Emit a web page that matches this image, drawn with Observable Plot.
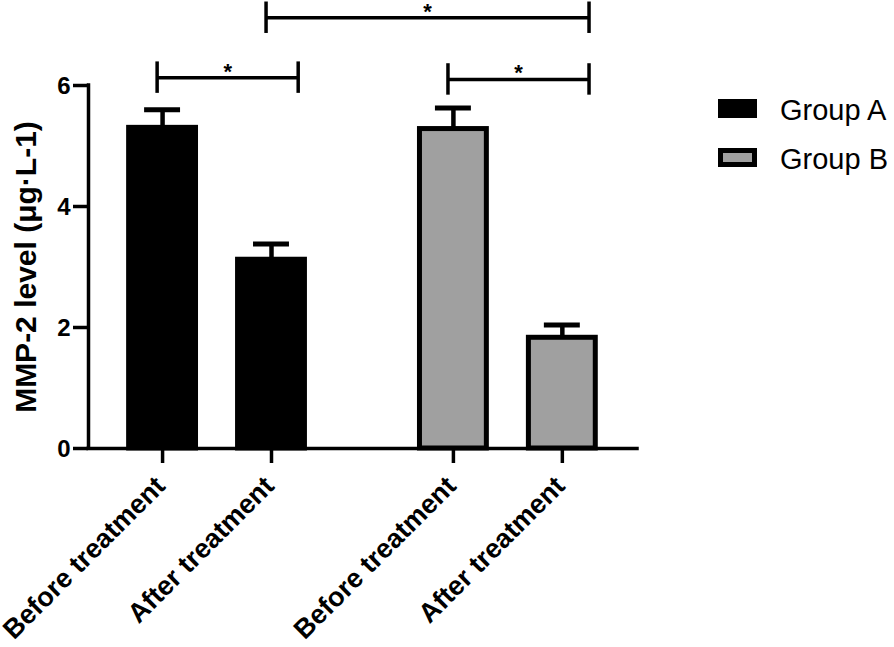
<!DOCTYPE html>
<html>
<head>
<meta charset="utf-8">
<script src="https://cdn.jsdelivr.net/npm/d3@7"></script>
<script src="https://cdn.jsdelivr.net/npm/@observablehq/plot@0.6"></script>
<style>
  body { margin: 0; background: #fff; font-family: "Liberation Sans", Arial, sans-serif; }
  #wrap { position: relative; width: 894px; height: 647px; overflow: hidden; }
  .sw { position: absolute; box-sizing: border-box; }
  .lt { position: absolute; font-size: 29px; line-height: 29px; color: #000; white-space: nowrap; }
</style>
</head>
<body>
<div id="wrap"><div id="chart"></div></div>
<script>
// ---- data ----
const groups = ["Group A", "Group B"];
const timepoints = ["Before treatment", "After treatment"];
const groupA_mean = [5.30, 3.12];
const groupA_sd = [0.30, 0.26];
const groupB_mean = [5.28, 1.83];
const groupB_sd = [0.35, 0.21];
const yTicks = [0, 2, 4, 6];
const yLabel = "MMP-2 level (μg·L-1)";
const bracketFrom = ["Group A|Before treatment", "Group B|Before treatment", "Group A|After treatment"];
const bracketTo = ["Group A|After treatment", "Group B|After treatment", "Group B|After treatment"];
const bracketLevel = [6.13, 6.10, 7.12];
const bracketMark = ["*", "*", "*"];
const groupColors = ["#000000", "#a0a0a0"];

// ---- layout constants ----
const GROUP_STEP = 2.67, BAR_HALF = 0.307, CAP_HALF = 0.165;
const X_MIN = -0.68, X_MAX = 4.36;
const BR_LEFT = -0.05, BR_RIGHT = 0.245, BR_TICK = 0.26;

const means = [groupA_mean, groupB_mean];
const sds = [groupA_sd, groupB_sd];
const rows = groups.flatMap((g, gi) => timepoints.map((t, ti) => ({
  group: g, time: t, key: g + "|" + t, pos: ti + gi * GROUP_STEP,
  mean: means[gi][ti], sd: sds[gi][ti]
})));
const posOf = k => rows.find(r => r.key === k).pos;
const bRows = bracketFrom.map((f, i) => ({
  x1: posOf(f) + BR_LEFT, x2: posOf(bracketTo[i]) + BR_RIGHT, y: bracketLevel[i], label: bracketMark[i]
}));
const bEnds = bRows.flatMap(b => [{x: b.x1, y: b.y}, {x: b.x2, y: b.y}]);

const chart = Plot.plot({
  width: 894, height: 647,
  marginLeft: 88, marginRight: 257, marginTop: 85, marginBottom: 199,
  style: { fontFamily: "Liberation Sans, Arial, sans-serif", background: "transparent" },
  x: { type: "linear", domain: [X_MIN, X_MAX], axis: null },
  y: { domain: [0, 6], axis: null },
  color: { domain: groups, range: groupColors },
  marks: [
    Plot.rect(rows, { x1: d => d.pos - BAR_HALF, x2: d => d.pos + BAR_HALF, y1: 0, y2: "mean",
      fill: "group", stroke: "#000", strokeWidth: 5 }),
    Plot.ruleX(rows, { x: "pos", y1: "mean", y2: d => d.mean + d.sd, stroke: "#000", strokeWidth: 4.5 }),
    Plot.ruleY(rows, { y: d => d.mean + d.sd, x1: d => d.pos - CAP_HALF, x2: d => d.pos + CAP_HALF, stroke: "#000", strokeWidth: 5 }),
    Plot.ruleY([0], { stroke: "#000", strokeWidth: 3.5, strokeLinecap: "square" }),
    Plot.ruleX([X_MIN], { y1: 0, y2: 6, stroke: "#000", strokeWidth: 3.5, strokeLinecap: "square" }),
    // tick marks
    Plot.axisY({ ticks: yTicks, tickSize: 15, tickFormat: () => "", stroke: "#000", strokeWidth: 3.5, label: null }),
    Plot.axisX({ ticks: rows.map(r => r.pos), tickFormat: () => "", tickSize: 15, stroke: "#000", strokeWidth: 3.5, label: null }),
    // tick labels
    Plot.text(yTicks, { x: X_MIN, y: d => d, text: d => String(d), textAnchor: "end", dx: -18, dy: 1,
      fontSize: 24, fontWeight: "bold", fill: "#000" }),
    Plot.text(rows, { x: "pos", y: 0, text: "time", rotate: -45, textAnchor: "end", lineAnchor: "middle",
      dx: -2, dy: 33, fontSize: 27, fontWeight: "bold", fill: "#000" }),
    // significance brackets
    Plot.ruleY(bRows, { y: "y", x1: "x1", x2: "x2", stroke: "#000", strokeWidth: 3.5 }),
    Plot.ruleX(bEnds, { x: "x", y1: d => d.y - BR_TICK, y2: d => d.y + BR_TICK, stroke: "#000", strokeWidth: 3.5 }),
    Plot.text(bRows, { x: d => (d.x1 + d.x2) / 2, y: "y", text: "label", dy: -6, fontSize: 22, fontWeight: "bold", fill: "#000" }),
    // y title
    Plot.text([yLabel], { frameAnchor: "left", rotate: -90, textAnchor: "middle", lineAnchor: "middle",
      dx: -62, fontSize: 30, fontWeight: "bold", fill: "#000", text: d => d })
  ]
});
const wrap = document.getElementById("wrap");
document.getElementById("chart").appendChild(chart);

// legend
groups.forEach((g, i) => {
  const top = 99 + i * 49;
  const sw = document.createElement("div");
  sw.className = "sw";
  sw.style.left = "718px"; sw.style.top = top + "px"; sw.style.width = "39px"; sw.style.height = "19px";
  sw.style.background = groupColors[i]; sw.style.border = "5px solid #000";
  wrap.appendChild(sw);
  const t = document.createElement("div");
  t.className = "lt"; t.textContent = g;
  t.style.left = "780px"; t.style.top = (top - 3.5) + "px";
  wrap.appendChild(t);
});
</script>
</body>
</html>
